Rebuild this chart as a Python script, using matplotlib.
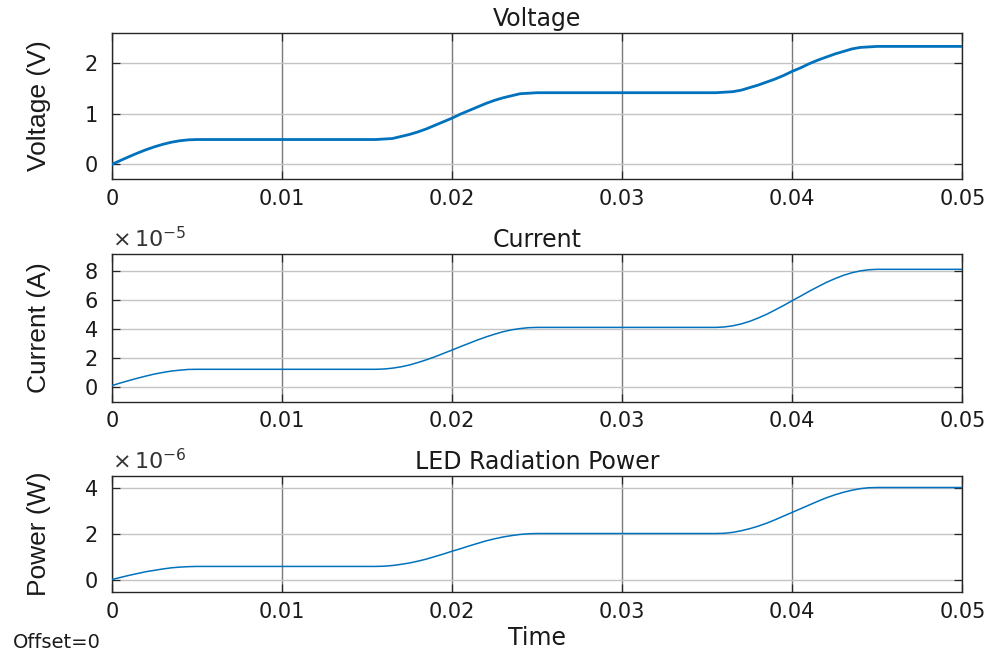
import matplotlib
matplotlib.use("Agg")
import matplotlib.pyplot as plt
from matplotlib.ticker import FuncFormatter

# ---------------- DATA ----------------
time = [0.0, 0.0005, 0.001, 0.0015, 0.002, 0.0025, 0.003, 0.0035, 0.004, 0.0045, 0.005,
        0.0155, 0.016, 0.0165, 0.017, 0.0175, 0.018, 0.0185, 0.019, 0.0195, 0.020,
        0.0205, 0.021, 0.0215, 0.022, 0.0225, 0.023, 0.0235, 0.024, 0.0245, 0.025,
        0.0355, 0.036, 0.0365, 0.037, 0.0375, 0.038, 0.0385, 0.039, 0.0395, 0.040,
        0.0405, 0.041, 0.0415, 0.042, 0.0425, 0.043, 0.0435, 0.044, 0.0445, 0.045,
        0.050]

voltage = [0.0, 0.077, 0.151, 0.222, 0.288, 0.346, 0.396, 0.437, 0.466, 0.484, 0.49,
           0.49, 0.50, 0.51, 0.55, 0.59, 0.64, 0.70, 0.77, 0.84, 0.91,
           0.99, 1.06, 1.13, 1.20, 1.26, 1.31, 1.35, 1.39, 1.40, 1.41,
           1.41, 1.42, 1.43, 1.46, 1.51, 1.56, 1.62, 1.68, 1.75, 1.83,
           1.90, 1.98, 2.05, 2.11, 2.17, 2.22, 2.27, 2.30, 2.31, 2.32,
           2.32]

# current in units of 1e-5 A
current = [0.07, 0.25, 0.42, 0.58, 0.73, 0.87, 0.98, 1.08, 1.14, 1.19, 1.20,
           1.20, 1.22, 1.28, 1.37, 1.50, 1.67, 1.86, 2.07, 2.30, 2.53,
           2.77, 3.00, 3.23, 3.44, 3.63, 3.80, 3.93, 4.02, 4.08, 4.10,
           4.10, 4.13, 4.21, 4.34, 4.52, 4.75, 5.01, 5.31, 5.62, 5.95,
           6.27, 6.60, 6.91, 7.21, 7.47, 7.70, 7.88, 8.01, 8.09, 8.12,
           8.12]

# radiated power in units of 1e-6 W
power = [0.03, 0.12, 0.21, 0.29, 0.37, 0.43, 0.49, 0.54, 0.57, 0.59, 0.60,
         0.60, 0.61, 0.64, 0.69, 0.75, 0.83, 0.92, 1.03, 1.14, 1.26,
         1.37, 1.49, 1.60, 1.71, 1.80, 1.88, 1.94, 1.99, 2.02, 2.03,
         2.03, 2.04, 2.08, 2.15, 2.24, 2.35, 2.48, 2.63, 2.79, 2.95,
         3.11, 3.27, 3.43, 3.58, 3.71, 3.82, 3.91, 3.98, 4.02, 4.03,
         4.03]

x_ticks = [0, 0.01, 0.02, 0.03, 0.04, 0.05]
x_tick_labels = ["0", "0.01", "0.02", "0.03", "0.04", "0.05"]

titles = ["Voltage", "Current", "LED Radiation Power"]
ylabels = ["Voltage (V)", "Current (A)", "Power (W)"]
exponents = [None, "-5", "-6"]
y_ticks = [[0, 1, 2], [0, 2, 4, 6, 8], [0, 2, 4]]
y_limits = [(-0.29, 2.59), (-1.04, 9.18), (-0.51, 4.53)]

# ---------------- STYLE ----------------
BLUE = "#0072BD"
FRAME = "#262626"
plt.rcParams["font.family"] = ["DejaVu Sans"]

fig = plt.figure(figsize=(9.99, 6.56), dpi=100)

# axes boxes in figure fractions: left, bottom, width, height
boxes = [
    [0.1119, 0.7268, 0.8514, 0.2234],
    [0.1119, 0.3877, 0.8514, 0.2251],
    [0.1119, 0.0976, 0.8514, 0.1768],
]
series = [voltage, current, power]
widths = [2.0, 1.1, 1.1]

for i, box in enumerate(boxes):
    ax = fig.add_axes(box)
    ax.plot(time, series[i], color=BLUE, linewidth=widths[i], zorder=3)

    ax.set_xlim(0, 0.05)
    ax.set_ylim(*y_limits[i])
    ax.set_xticks(x_ticks)
    ax.set_xticklabels(x_tick_labels)
    ax.set_yticks(y_ticks[i])
    ax.yaxis.set_major_formatter(FuncFormatter(lambda v, p: "%g" % v))

    # MATLAB-like grid: darker verticals, lighter horizontals
    ax.grid(True, axis="x", color="#7a7a7a", linewidth=1.0, zorder=1)
    ax.grid(True, axis="y", color="#c4c4c4", linewidth=1.0, zorder=1)

    for sp in ax.spines.values():
        sp.set_color(FRAME)
        sp.set_linewidth(1.0)

    ax.tick_params(axis="both", direction="in", length=6, width=0.9,
                   colors=FRAME, labelcolor="#1a1a1a", labelsize=15,
                   top=True, right=True)
    ax.tick_params(axis="x", pad=7)
    ax.tick_params(axis="y", pad=10)

    ax.set_title(titles[i], fontsize=17, color="#1a1a1a", pad=5)
    ax.set_ylabel(ylabels[i], fontsize=19, color="#1a1a1a",
                  family=["Liberation Sans", "DejaVu Sans"])
    ax.yaxis.set_label_coords(-0.071, 0.5)

    if exponents[i] is not None:
        ax.text(0.0, 1.02, r"$\times\,\mathregular{10^{%s}}$" % exponents[i],
                transform=ax.transAxes, fontsize=16, color="#333333",
                ha="left", va="bottom")

    if i == 2:
        ax.set_xlabel("Time", fontsize=17, color="#1a1a1a", labelpad=3)

fig.text(0.013, 0.006, "Offset=0", fontsize=14, color="#1a1a1a",
         ha="left", va="bottom")

plt.savefig("out.png", dpi=100)
plt.close()
